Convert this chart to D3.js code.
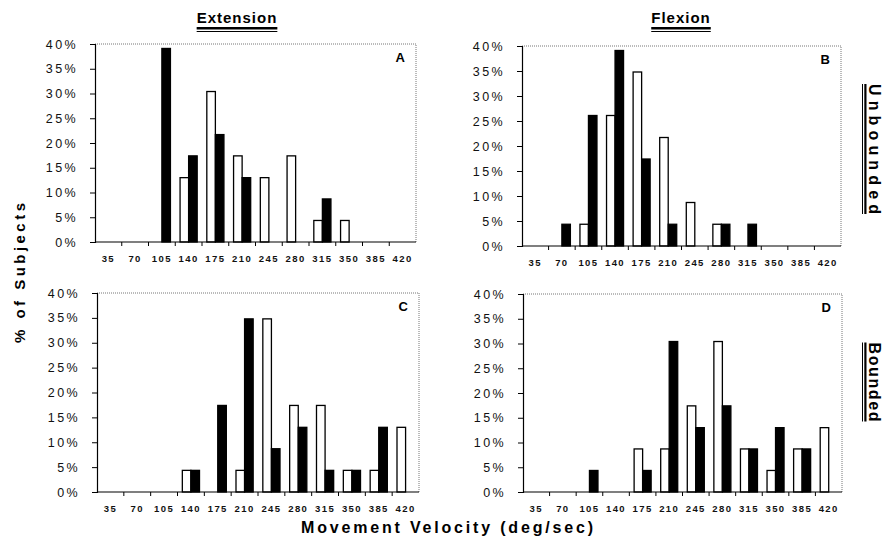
<!DOCTYPE html>
<html>
<head>
<meta charset="utf-8">
<script src="https://cdn.jsdelivr.net/npm/d3@7"></script>
<style>
  body { margin: 0; background: #fff; }
  svg { font-family: "Liberation Sans", Arial, sans-serif; }
</style>
</head>
<body>
<svg id="chart" width="885" height="544"></svg>
<script>
// velocity bins (deg/sec)
const velocities = ['35', '70', '105', '140', '175', '210', '245', '280', '315', '350', '385', '420'];
const yTicks = [0, 5, 10, 15, 20, 25, 30, 35, 40];

// % of subjects, open (white) bars and filled (black) bars per panel
const extUnbOpen   = [0, 0, 0, 13.0, 30.4, 17.4, 13.0, 17.4, 4.35, 4.35, 0, 0];
const extUnbFilled = [0, 0, 39.1, 17.4, 21.7, 13.0, 0, 0, 8.7, 0, 0, 0];
const flxUnbOpen   = [0, 0, 4.35, 26.1, 34.8, 21.7, 8.7, 4.35, 0, 0, 0, 0];
const flxUnbFilled = [0, 4.35, 26.1, 39.1, 17.4, 4.35, 0, 4.35, 4.35, 0, 0, 0];
const extBndOpen   = [0, 0, 0, 4.35, 0, 4.35, 34.8, 17.4, 17.4, 4.35, 4.35, 13.0];
const extBndFilled = [0, 0, 0, 4.35, 17.4, 34.8, 8.7, 13.0, 4.35, 4.35, 13.0, 0];
const flxBndOpen   = [0, 0, 0, 0, 8.7, 8.7, 17.4, 30.4, 8.7, 4.35, 8.7, 13.0];
const flxBndFilled = [0, 0, 4.35, 0, 4.35, 30.4, 13.0, 17.4, 8.7, 13.0, 8.7, 0];

const svg = d3.select('#chart');

// panel layout
const panels = [
    { label: 'A', open: extUnbOpen, filled: extUnbFilled, x: 95,  y: 44,  w: 321, h: 198 },
    { label: 'B', open: flxUnbOpen, filled: flxUnbFilled, x: 522, y: 46,  w: 319, h: 200 },
    { label: 'C', open: extBndOpen, filled: extBndFilled, x: 97,  y: 293, w: 322, h: 199 },
    { label: 'D', open: flxBndOpen, filled: flxBndFilled, x: 523, y: 294, w: 319, h: 198 }
];

function drawPanel(p) {
    const g = svg.append('g').attr('transform', `translate(${p.x},${p.y})`);

    const x0 = d3.scaleBand().domain(velocities).range([0, p.w]).paddingInner(0.36).paddingOuter(0.18);
    const x1 = d3.scaleBand().domain(['open', 'filled']).range([0, x0.bandwidth()]);
    const y = d3.scaleLinear().domain([0, 40]).range([p.h, 0]);

    // dotted frame (top/right)
    g.append('path')
        .attr('d', `M0,0H${p.w}V${p.h}`)
        .attr('fill', 'none')
        .attr('stroke', '#777')
        .attr('stroke-width', 1)
        .attr('stroke-dasharray', '1,1');

    const rows = velocities.map((v, i) => ({ v: v, open: p.open[i], filled: p.filled[i] }));

    const grp = g.selectAll('g.cat')
        .data(rows)
        .enter()
        .append('g')
        .attr('class', 'cat')
        .attr('transform', d => `translate(${x0(d.v)},0)`);

    grp.selectAll('rect')
        .data(d => ['open', 'filled'].map(k => ({ k: k, val: d[k] })).filter(e => e.val > 0))
        .enter()
        .append('rect')
        .attr('x', d => x1(d.k))
        .attr('y', d => y(d.val))
        .attr('width', x1.bandwidth())
        .attr('height', d => p.h - y(d.val))
        .attr('fill', d => d.k === 'open' ? '#fff' : '#000')
        .attr('stroke', '#000')
        .attr('stroke-width', 1.3);

    // y axis
    const yAxis = g.append('g')
        .call(d3.axisLeft(y).tickValues(yTicks).tickFormat(d => d + '%').tickSize(5).tickPadding(12));
    yAxis.select('.domain').attr('stroke', '#000').attr('stroke-width', 1.2);
    yAxis.selectAll('text')
        .attr('font-size', 12.5)
        .attr('letter-spacing', 2.4)
        .attr('fill', '#111');

    // x axis: ticks between bins, labels centred on bins
    const gap = (x0.step() - x0.bandwidth()) / 2;
    const xAxis = g.append('g').attr('transform', `translate(0,${p.h})`);
    xAxis.append('line')
        .attr('x1', 0).attr('x2', p.w)
        .attr('stroke', '#000').attr('stroke-width', 1.2);
    xAxis.selectAll('line.tick')
        .data(velocities.slice(1))
        .enter()
        .append('line')
        .attr('class', 'tick')
        .attr('x1', d => x0(d) - gap)
        .attr('x2', d => x0(d) - gap)
        .attr('y1', 0).attr('y2', 4)
        .attr('stroke', '#000');
    xAxis.selectAll('text')
        .data(velocities)
        .enter()
        .append('text')
        .attr('x', d => x0(d) + x0.bandwidth() / 2)
        .attr('y', 20)
        .attr('text-anchor', 'middle')
        .attr('font-size', 9.5)
        .attr('font-weight', 'bold')
        .attr('letter-spacing', 1.4)
        .attr('fill', '#111')
        .text(d => d);

    // panel letter
    g.append('text')
        .attr('x', p.w - 11)
        .attr('y', 18)
        .attr('text-anchor', 'end')
        .attr('font-size', 13)
        .attr('font-weight', 'bold')
        .text(p.label);
}

panels.forEach(drawPanel);

// column titles with double underline
function title(text, cx, cy) {
    const t = svg.append('text')
        .attr('x', cx).attr('y', cy)
        .attr('text-anchor', 'middle')
        .attr('font-size', 15)
        .attr('font-weight', 'bold')
        .attr('letter-spacing', 1)
        .text(text);
    const w = t.node().getComputedTextLength();
    svg.append('rect').attr('x', cx - w / 2).attr('y', cy + 4).attr('width', w).attr('height', 2.5).attr('fill', '#000');
    svg.append('rect').attr('x', cx - w / 2).attr('y', cy + 8).attr('width', w).attr('height', 1).attr('fill', '#000');
}
title('Extension', 237, 23);
title('Flexion', 681, 23);

// row titles (rotated) with double underline
function rowTitle(text, cx, cy, len) {
    const g = svg.append('g').attr('transform', `translate(${cx},${cy}) rotate(90)`);
    g.append('text')
        .attr('text-anchor', 'middle')
        .attr('font-size', 16)
        .attr('font-weight', 'bold')
        .attr('textLength', len)
        .attr('lengthAdjust', 'spacing')
        .text(text);
    g.append('rect').attr('x', -len / 2).attr('y', 2.5).attr('width', len).attr('height', 2.2).attr('fill', '#000');
    g.append('rect').attr('x', -len / 2).attr('y', 6).attr('width', len).attr('height', 1).attr('fill', '#000');
}
rowTitle('Unbounded', 869, 149, 130);
rowTitle('Bounded', 869, 382, 79);

// axis titles
svg.append('text')
    .attr('transform', 'translate(25,273) rotate(-90)')
    .attr('text-anchor', 'middle')
    .attr('font-size', 15)
    .attr('font-weight', 'bold')
    .attr('textLength', 140)
    .attr('lengthAdjust', 'spacing')
    .text('% of Subjects');

svg.append('text')
    .attr('x', 447).attr('y', 533)
    .attr('text-anchor', 'middle')
    .attr('font-size', 16)
    .attr('font-weight', 'bold')
    .attr('textLength', 292)
    .attr('lengthAdjust', 'spacing')
    .text('Movement Velocity (deg/sec)');
</script>
</body>
</html>
